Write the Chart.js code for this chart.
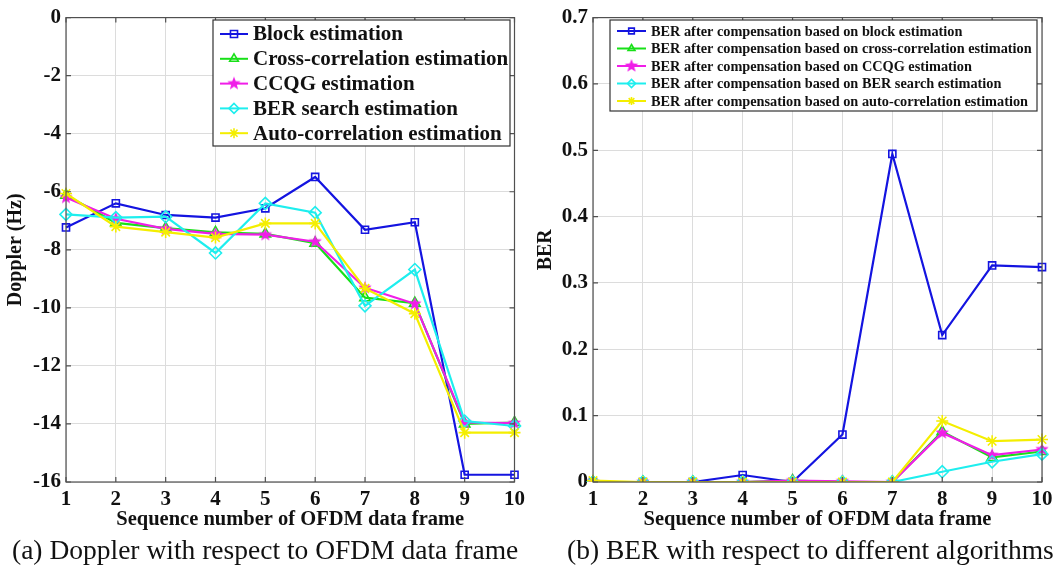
<!DOCTYPE html>
<html>
<head>
    <title>Doppler and BER per OFDM frame</title>
    <script src="https://cdn.jsdelivr.net/npm/chart.js"></script>
    <style>
        body { margin: 0; background: #fff; width: 1064px; height: 579px; position: relative; overflow: hidden; }
        canvas { position: absolute; top: 0; }
        #dopplerChart { left: 0; }
        #berChart { left: 530px; }
        .caption { position: absolute; top: 534px; font-family: "Liberation Serif", serif; font-size: 27.5px; color: #111; white-space: nowrap; }
    </style>
</head>
<body>
    <canvas id="dopplerChart" width="530" height="536"></canvas>
    <canvas id="berChart" width="534" height="536"></canvas>
    <div class="caption" style="left: 12px;">(a) Doppler with respect to OFDM data frame</div>
    <div class="caption" style="left: 567px;">(b) BER with respect to different algorithms</div>

    <script>
        // frame index on the x axis
        var frames = [1, 2, 3, 4, 5, 6, 7, 8, 9, 10];

        // (a) estimated Doppler, Hz
        var dopplerBlock = [-7.23, -6.4, -6.8, -6.89, -6.57, -5.49, -7.31, -7.05, -15.75, -15.75];
        var dopplerCross = [-6.12, -7.07, -7.25, -7.4, -7.45, -7.77, -9.65, -9.84, -14.0, -13.95];
        var dopplerCCQG = [-6.2, -6.93, -7.28, -7.45, -7.48, -7.72, -9.31, -9.86, -13.95, -13.97];
        var dopplerBerSearch = [-6.78, -6.89, -6.86, -8.11, -6.4, -6.72, -9.93, -8.68, -13.9, -14.07];
        var dopplerAuto = [-6.06, -7.2, -7.39, -7.58, -7.09, -7.09, -9.33, -10.2, -14.3, -14.3];

        // (b) BER after compensation
        var berBlock = [0, 0, 0, 0.0105, 0, 0.0715, 0.4945, 0.2215, 0.3265, 0.324];
        var berCross = [0, 0, 0, 0, 0.002, 0, 0, 0.076, 0.037, 0.046];
        var berCCQG = [0, 0, 0, 0, 0.002, 0.001, 0, 0.074, 0.0405, 0.049];
        var berBerSearch = [0, 0, 0, 0, 0, 0, 0, 0.0155, 0.0305, 0.042];
        var berAuto = [0.002, 0, 0, 0, 0, 0, 0, 0.092, 0.0615, 0.064];

        var dopplerNames = ['Block estimation', 'Cross-correlation estimation', 'CCQG estimation',
            'BER search estimation', 'Auto-correlation estimation'];
        var berNames = ['BER after compensation based on block estimation',
            'BER after compensation based on cross-correlation estimation',
            'BER after compensation based on CCQG estimation',
            'BER after compensation based on BER search estimation',
            'BER after compensation based on auto-correlation estimation'];

        var colors = ['#1414e0', '#18e018', '#f01ee8', '#1eeeee', '#f4ee00'];

        // filled pentagram marker for the CCQG line
        function pentagram(color, r) {
            var c = document.createElement('canvas');
            c.width = c.height = r * 2 + 2;
            var g = c.getContext('2d');
            g.beginPath();
            for (var i = 0; i < 10; i++) {
                var rad = i % 2 === 0 ? r : r * 0.42;
                var a = -Math.PI / 2 + i * Math.PI / 5;
                var px = r + 1 + rad * Math.cos(a), py = r + 1 + rad * Math.sin(a);
                if (i === 0) g.moveTo(px, py); else g.lineTo(px, py);
            }
            g.closePath();
            g.fillStyle = color;
            g.fill();
            return c;
        }
        var markers = ['rect', 'triangle', pentagram(colors[2], 7), 'rectRot', 'star'];

        function makeDatasets(names, series) {
            return series.map(function (vals, i) {
                return {
                    label: names[i],
                    data: vals,
                    borderColor: colors[i],
                    backgroundColor: 'rgba(0,0,0,0)',
                    pointBackgroundColor: 'rgba(0,0,0,0)',
                    pointStyle: markers[i],
                    pointRadius: i === 0 ? 5 : 6,
                    pointBorderWidth: 1.6,
                    borderWidth: 2.2,
                    tension: 0,
                    order: series.length - i
                };
            });
        }

        // box around the plot with inward ticks on all sides
        var boxPlugin = {
            id: 'box',
            afterDraw: function (chart) {
                var a = chart.chartArea, ctx = chart.ctx;
                ctx.save();
                ctx.strokeStyle = '#505050';
                ctx.lineWidth = 1.2;
                ctx.strokeRect(a.left, a.top, a.right - a.left, a.bottom - a.top);
                var xs = chart.scales.x, ys = chart.scales.y;
                ctx.beginPath();
                xs.ticks.forEach(function (t, i) {
                    var px = xs.getPixelForTick(i);
                    ctx.moveTo(px, a.bottom); ctx.lineTo(px, a.bottom - 5);
                    ctx.moveTo(px, a.top); ctx.lineTo(px, a.top + 5);
                });
                ys.ticks.forEach(function (t) {
                    var py = ys.getPixelForValue(t.value);
                    ctx.moveTo(a.left, py); ctx.lineTo(a.left + 5, py);
                    ctx.moveTo(a.right, py); ctx.lineTo(a.right - 5, py);
                });
                ctx.stroke();
                ctx.restore();
            }
        };

        // legend drawn inside the plot, MATLAB style
        var boxLegend = {
            id: 'boxLegend',
            afterDraw: function (chart, args, o) {
                var ctx = chart.ctx;
                ctx.save();
                ctx.fillStyle = '#fff';
                ctx.fillRect(o.x, o.y, o.w, o.h);
                ctx.strokeStyle = '#333';
                ctx.lineWidth = 1.2;
                ctx.strokeRect(o.x, o.y, o.w, o.h);
                ctx.font = 'bold ' + o.fontSize + 'px "Liberation Serif", serif';
                ctx.textBaseline = 'middle';
                chart.data.datasets.forEach(function (ds, i) {
                    var cy = o.y + o.first + i * o.step;
                    var x0 = o.x + 7, x1 = x0 + o.sample;
                    ctx.strokeStyle = ds.borderColor;
                    ctx.lineWidth = 2;
                    ctx.beginPath();
                    ctx.moveTo(x0, cy); ctx.lineTo(x1, cy);
                    ctx.stroke();
                    ctx.fillStyle = i === 2 ? ds.borderColor : 'rgba(0,0,0,0)';
                    ctx.lineWidth = 1.6;
                    Chart.helpers.drawPoint(ctx, {
                        pointStyle: ds.pointStyle,
                        radius: o.markerRadius,
                        rotation: 0,
                        borderWidth: 1.6
                    }, (x0 + x1) / 2, cy);
                    ctx.fillStyle = '#111';
                    ctx.fillText(ds.label, x1 + 5, cy + 1);
                });
                ctx.restore();
            }
        };

        function axisFont(size) {
            return { family: '"Liberation Serif", serif', size: size, weight: 'bold' };
        }

        function makeChart(id, names, series, yOpts, area, legend) {
            var datasets = makeDatasets(names, series);
            datasets[2].pointBackgroundColor = colors[2];
            return new Chart(document.getElementById(id), {
                type: 'line',
                data: { labels: frames, datasets: datasets },
                options: {
                    responsive: false,
                    animation: false,
                    layout: { padding: { top: area.top, right: area.right, left: 0, bottom: 0 } },
                    plugins: {
                        legend: { display: false },
                        tooltip: { enabled: false },
                        boxLegend: legend
                    },
                    scales: {
                        x: {
                            grid: { color: '#dcdcdc', drawTicks: false },
                            border: { display: false },
                            ticks: { color: '#111', font: axisFont(21), padding: 5, maxRotation: 0 },
                            title: { display: true, text: 'Sequence number of OFDM data frame', color: '#111', font: axisFont(20.5), padding: { top: -5 } },
                            afterFit: function (s) { s.height = area.xHeight; }
                        },
                        y: {
                            min: yOpts.min,
                            max: yOpts.max,
                            grid: { color: '#dcdcdc', drawTicks: false },
                            border: { display: false },
                            ticks: { stepSize: yOpts.step, color: '#111', font: axisFont(21), padding: 5 },
                            title: { display: true, text: yOpts.title, color: '#111', font: axisFont(20), padding: { top: 4, bottom: 0 } },
                            afterFit: function (s) { s.width = area.yWidth; }
                        }
                    }
                },
                plugins: [boxPlugin, boxLegend]
            });
        }

        makeChart('dopplerChart', dopplerNames,
            [dopplerBlock, dopplerCross, dopplerCCQG, dopplerBerSearch, dopplerAuto],
            { min: -16, max: 0, step: 2, title: 'Doppler (Hz)' },
            { top: 15, right: 14, yWidth: 66, xHeight: 54 },
            { x: 213, y: 20, w: 297, h: 126, first: 14, step: 24.8, sample: 28, fontSize: 21, markerRadius: 5 });

        makeChart('berChart', berNames,
            [berBlock, berCross, berCCQG, berBerSearch, berAuto],
            { min: 0, max: 0.7, step: 0.1, title: 'BER' },
            { top: 15, right: 22, yWidth: 63, xHeight: 54 },
            { x: 80, y: 20, w: 427, h: 91, first: 11, step: 17.5, sample: 29, fontSize: 14.3, markerRadius: 4 });
    </script>
</body>
</html>
